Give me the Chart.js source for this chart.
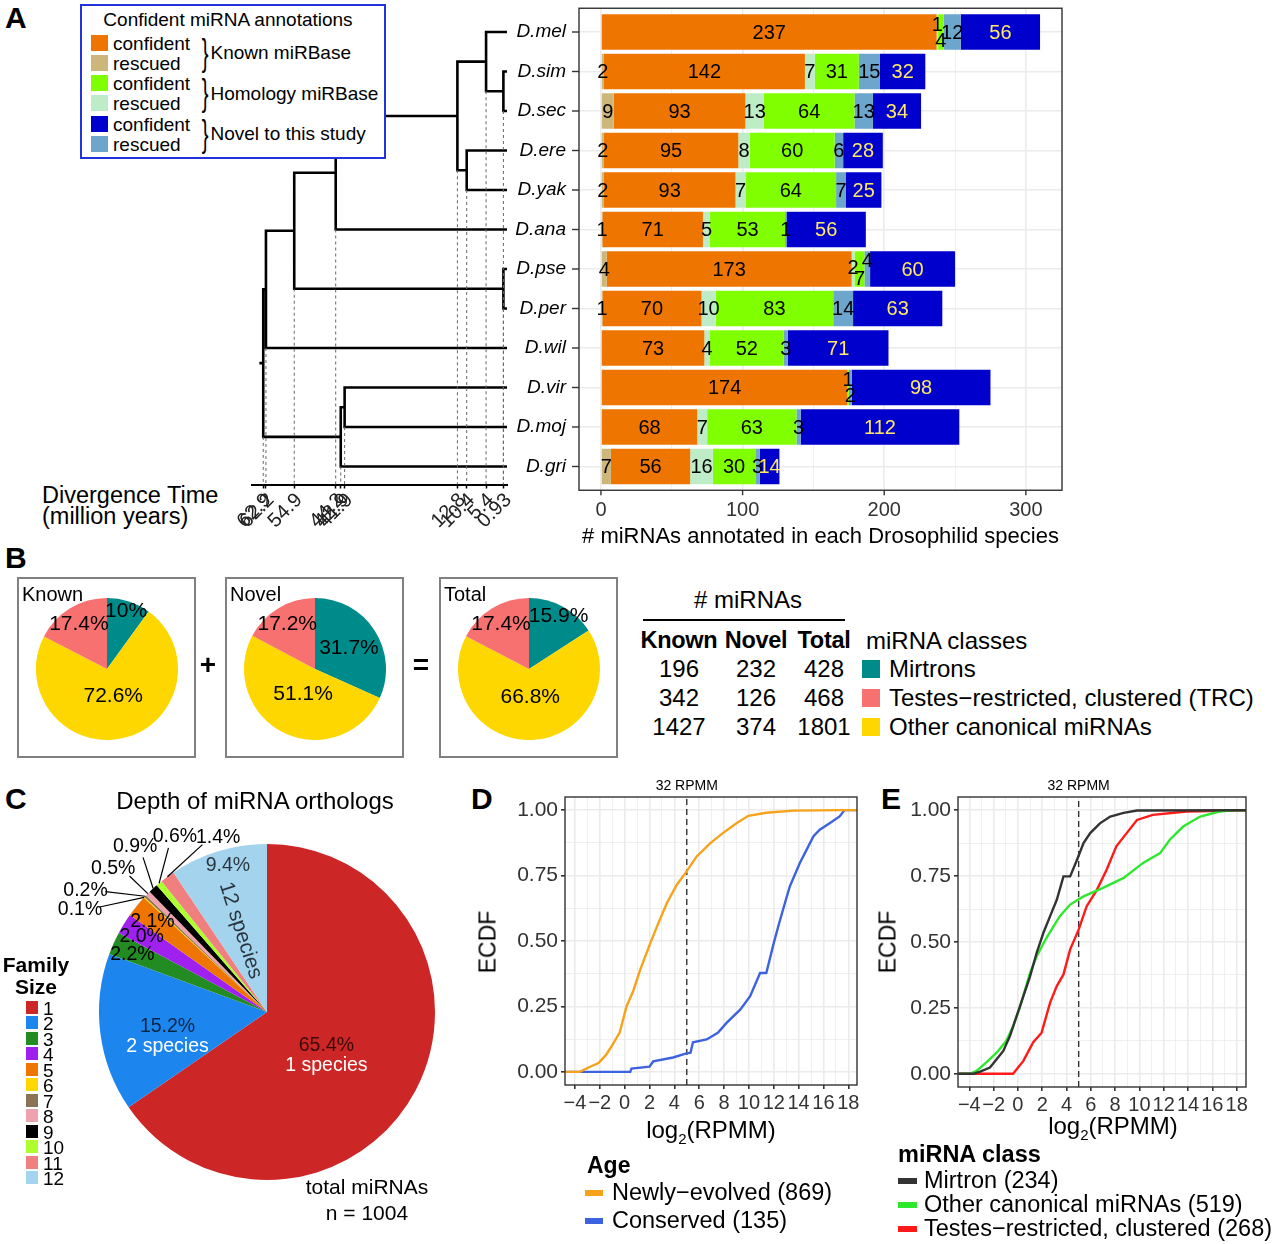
<!DOCTYPE html>
<html>
<head>
<meta charset="utf-8">
<title>Drosophilid miRNA annotations</title>
<script src="https://cdn.jsdelivr.net/npm/chart.js@4.4.1/dist/chart.umd.min.js"></script>
<style>
  body { margin:0; width:1280px; height:1244px; position:relative; overflow:hidden; background:#fff;
         font-family:'Liberation Sans', Arial, sans-serif; color:#000; }
  canvas { position:absolute; }
  .t { position:absolute; white-space:nowrap; line-height:1; }
  .letter { position:absolute; font-weight:bold; font-size:30px; line-height:1; }
</style>
</head>
<body>
<div class="letter" style="left:5px;top:3px">A</div>
<div class="letter" style="left:5px;top:543px">B</div>
<div class="letter" style="left:5px;top:784px">C</div>
<div class="letter" style="left:471px;top:784px">D</div>
<div class="letter" style="left:881px;top:784px">E</div>

<script>
// ---------- data ----------
// panel A
const species = ['D.mel','D.sim','D.sec','D.ere','D.yak','D.ana','D.pse','D.per','D.wil','D.vir','D.moj','D.gri'];
const knownRescued      = [0, 2, 9, 2, 2, 1, 4, 1, 0, 0, 0, 7];
const knownConfident    = [237, 142, 93, 95, 93, 71, 173, 70, 73, 174, 68, 56];
const homologyRescued   = [1, 7, 13, 8, 7, 5, 2, 10, 4, 0, 7, 16];
const homologyConfident = [4, 31, 64, 60, 64, 53, 7, 83, 52, 1, 63, 30];
const novelRescued      = [12, 15, 13, 6, 7, 1, 4, 14, 3, 2, 3, 3];
const novelConfident    = [56, 32, 34, 28, 25, 56, 60, 63, 71, 98, 112, 14];
const barTicks = [0, 50, 100, 150, 200, 250, 300];

// tree: [node, age (million years), children]
const treeNodes = [
  ['root', 62.9, ['sophophora+wil', 'drosophila']],
  ['sophophora+wil', 62.2, ['sophophora', 'D.wil']],
  ['sophophora', 54.9, ['melanogaster grp', 'obscura']],
  ['melanogaster grp', 44.2, ['melanogaster sgrp', 'D.ana']],
  ['melanogaster sgrp', 12.8, ['mel complex', 'ere-yak']],
  ['mel complex', 5.4, ['D.mel', 'sim-sec']],
  ['sim-sec', 0.93, ['D.sim', 'D.sec']],
  ['ere-yak', 10.4, ['D.ere', 'D.yak']],
  ['obscura', 0.93, ['D.pse', 'D.per']],
  ['drosophila', 42.9, ['vir-moj', 'D.gri']],
  ['vir-moj', 41.9, ['D.vir', 'D.moj']]
];
const rootEdge = 1.0;

// panel B
const classNames = ['Mirtrons', 'Testes\u2212restricted, clustered (TRC)', 'Other canonical miRNAs'];
const knownCounts = [196, 342, 1427];
const novelCounts = [232, 126, 374];
const totalCounts = [428, 468, 1801];

// panel C
const familySizes = ['1','2','3','4','5','6','7','8','9','10','11','12'];
const familyPct = [65.4, 15.2, 2.2, 2.0, 2.1, 0.1, 0.2, 0.5, 0.9, 0.6, 1.4, 9.4];
const totalMiRNAs = 1004;

// panels D, E: ECDF curves, [log2(RPMM), ECDF]
const newlyEvolved = [[-4.8,0],[-3.6,0],[-3.0,0.015],[-2.1,0.034],[-1.5,0.065],[-1.05,0.098],[-0.4,0.15],
  [0.15,0.25],[0.7,0.31],[1.25,0.39],[2.05,0.49],[2.6,0.555],[3.4,0.645],[4.2,0.715],[4.9,0.76],[5.8,0.823],
  [6.9,0.874],[7.9,0.912],[9.0,0.95],[9.95,0.978],[11.4,0.99],[13.6,0.998],[17.6,1],[18.7,1]];
const conserved = [[-4.8,0],[0.45,0],[0.55,0.013],[2.0,0.02],[2.3,0.04],[3.9,0.055],[4.9,0.07],[5.3,0.073],
  [5.5,0.113],[6.6,0.124],[7.5,0.149],[8.2,0.187],[9.3,0.238],[10.1,0.289],[10.9,0.378],[11.4,0.378],[12.0,0.492],
  [12.4,0.562],[12.9,0.645],[13.3,0.709],[14.1,0.798],[14.65,0.849],[15.2,0.9],[15.7,0.925],[16.5,0.95],
  [17.3,0.976],[17.7,1],[18.7,1]];
const mirtron = [[-4.9,0],[-3.7,0],[-3.1,0.008],[-2.3,0.024],[-1.75,0.055],[-1.2,0.087],[-0.65,0.144],[-0.1,0.22],
  [0.45,0.295],[1.0,0.37],[1.55,0.46],[2.1,0.535],[2.65,0.598],[3.2,0.66],[3.75,0.749],[4.3,0.749],[4.85,0.81],
  [5.4,0.875],[5.95,0.913],[6.75,0.95],[7.6,0.976],[8.7,0.99],[9.8,0.999],[18.8,1]];
const otherCanonical = [[-4.9,0],[-3.95,0],[-3.4,0.011],[-2.6,0.043],[-1.75,0.08],[-0.95,0.125],[-0.4,0.18],
  [0.15,0.25],[1.0,0.383],[1.55,0.446],[2.35,0.516],[3.45,0.598],[4.3,0.642],[5.4,0.673],[7.0,0.705],[8.7,0.743],
  [10.3,0.8],[11.7,0.837],[12.5,0.888],[13.6,0.938],[15.0,0.976],[16.6,0.995],[17.7,1],[18.8,1]];
const testesRestricted = [[-4.9,0],[-0.4,0],[0.45,0.049],[1.25,0.119],[1.95,0.156],[2.65,0.27],[3.2,0.333],
  [3.75,0.377],[4.3,0.472],[5.0,0.547],[5.65,0.635],[6.5,0.698],[7.3,0.774],[8.1,0.863],[8.95,0.913],
  [9.8,0.963],[11.1,0.982],[13.9,0.995],[18.8,1]];
const ageLabels = ['Newly\u2212evolved (869)', 'Conserved (135)'];
const classLabels = ['Mirtron (234)', 'Other canonical miRNAs (519)', 'Testes\u2212restricted, clustered (268)'];
const thresholdRPMM = 32;
const ecdfTicks = [-4,-3,-2,-1,0,1,2,3,4,5,6,7,8,9,10,11,12,13,14,15,16,17,18];
const ecdfYTicks = [0, 0.125, 0.25, 0.375, 0.5, 0.625, 0.75, 0.875, 1];

// ---------- styles ----------
const annotColors = ['#cdb67a', '#ee7600', '#bdecc6', '#7fff00', '#6ca6cd', '#0000cd'];
const annotText   = ['#000', '#000', '#000', '#000', '#000', '#ffe866'];
const classColors = ['#008b8b', '#f87171', '#ffd700'];
const familyColors = ['#cd2626','#1c86ee','#228b22','#a020f0','#ee7600','#ffd700','#8b7355','#eea2ad',
  '#000000','#adff2f','#f08080','#a4d3ee'];
const ageColors = ['#f7a21b', '#3d62e0'];
const classLineColors = ['#333333', '#2ee82e', '#ff1a1a'];
const FONT = "'Liberation Sans', Arial, sans-serif";

Chart.defaults.font.family = FONT;
Chart.defaults.color = '#333';
Chart.defaults.animation = false;
Chart.defaults.responsive = false;
Chart.defaults.plugins.legend.display = false;
Chart.defaults.plugins.tooltip.enabled = false;

// ---------- helpers ----------
function makeCanvas(x, y, w, h) {
  const c = document.createElement('canvas');
  c.width = w; c.height = h;
  c.style.left = x + 'px'; c.style.top = y + 'px';
  c.style.width = w + 'px'; c.style.height = h + 'px';
  document.body.appendChild(c);
  return c;
}
function text(html, x, y, css, anchor, parent) {
  const d = document.createElement('div');
  d.className = 't';
  d.innerHTML = html;
  if (css) d.style.cssText += css;
  d.style.left = x + 'px'; d.style.top = y + 'px';
  const tx = {l: '0', c: '-50%', r: '-100%'}[anchor || 'l'];
  d.style.transform = 'translate(' + tx + ',-50%)';
  (parent || document.body).appendChild(d);
  return d;
}
function div(css, parent) {
  const d = document.createElement('div');
  d.style.cssText = 'position:absolute;' + css;
  (parent || document.body).appendChild(d);
  return d;
}

const framePlugin = {
  id: 'frame',
  afterDatasetsDraw(chart, args, opts) {
    const a = chart.chartArea, ctx = chart.ctx, e = opts.extendY || 0;
    ctx.save();
    ctx.strokeStyle = '#333'; ctx.lineWidth = 1.4;
    ctx.strokeRect(a.left, a.top - e, a.right - a.left, a.bottom - a.top + 2 * e);
    ctx.restore();
  }
};

// ---------- panel A: tree ----------
const nodeMap = {};
treeNodes.forEach(n => nodeMap[n[0]] = n);
const ageOf = id => nodeMap[id] ? nodeMap[id][1] : 0;
const rowOf = id => nodeMap[id] ? (rowOf(nodeMap[id][2][0]) + rowOf(nodeMap[id][2][1])) / 2 : species.indexOf(id);
const axisRow = 11.455;
const solid = [], dashed = [];
treeNodes.forEach(([id, age, kids]) => {
  const y1 = rowOf(kids[0]), y2 = rowOf(kids[1]);
  solid.push({x: ageOf(kids[0]), y: y1}, {x: age, y: y1}, {x: age, y: y2}, {x: ageOf(kids[1]), y: y2}, {x: null, y: null});
  dashed.push({x: age, y: Math.max(y1, y2)}, {x: age, y: axisRow}, {x: null, y: null});
});
solid.push({x: treeNodes[0][1] + rootEdge, y: rowOf('root')}, {x: treeNodes[0][1], y: rowOf('root')});
const divTimes = [...new Set(treeNodes.map(n => n[1]))].sort((a, b) => b - a);

new Chart(makeCanvas(230, 0, 290, 550), {
  type: 'scatter',
  data: { datasets: [
    { data: dashed, showLine: true, pointRadius: 0, borderColor: '#666', borderWidth: 1, borderDash: [3, 3], clip: false },
    { data: solid, showLine: true, pointRadius: 0, borderColor: '#000', borderWidth: 2.6, borderJoinStyle: 'miter', clip: false }
  ]},
  options: {
    layout: { padding: { left: 22, right: 13, top: 8.3 } },
    scales: {
      x: { type: 'linear', reverse: true, min: 0, max: 65.8,
           afterBuildTicks: s => { s.ticks = divTimes.map(v => ({ value: v })); },
           ticks: { autoSkip: false, minRotation: 45, maxRotation: 45, font: { size: 20 }, color: '#222', padding: 0,
                    labelOffset: 5, callback: v => String(v) },
           grid: { drawOnChartArea: false, tickLength: 4, tickColor: '#000', tickWidth: 1.5 },
           border: { color: '#000', width: 2 },
           afterFit: s => { s.height = 65.5; s.paddingLeft = 0; s.paddingRight = 0; } },
      y: { type: 'linear', reverse: true, min: -0.6, max: axisRow, display: false }
    }
  }
});
text('Divergence Time', 42, 496, 'font-size:23.5px');
text('(million years)', 42, 517, 'font-size:23.5px');

// legend box of panel A
const lg = div('left:80px;top:4px;width:302px;height:151px;border:2px solid #2233dd;background:#fff;z-index:5');
text('Confident miRNA annotations', 146, 13, 'font-size:19px', 'c', lg);
const groupNames = ['Known miRBase', 'Homology miRBase', 'Novel to this study'];
[1, 0, 3, 2, 5, 4].forEach((k, r) => {
  div('left:9px;top:' + (28.5 + 20.3 * r) + 'px;width:17px;height:16px;background:' + annotColors[k], lg);
  text(r % 2 ? 'rescued' : 'confident', 31, 36.5 + 20.3 * r, 'font-size:19px', 'l', lg);
});
groupNames.forEach((g, i) => {
  const b = text('}', 117, 46.5 + 40.6 * i, 'font-size:37px;', 'l', lg);
  b.style.transform = 'translate(0,-52%) scaleX(0.55)';
  text(g, 128.5, 46 + 40.6 * i, 'font-size:19px', 'l', lg);
});

// ---------- panel A: bars ----------
const barPlugin = {
  id: 'barDecor',
  beforeDatasetsDraw(chart) {
    const a = chart.chartArea, ctx = chart.ctx, xs = chart.scales.x, ys = chart.scales.y;
    ctx.save();
    ctx.strokeStyle = '#ebebeb';
    barTicks.forEach(v => {
      const x = xs.getPixelForValue(v);
      ctx.lineWidth = v % 100 === 0 ? 1.6 : 0.8;
      ctx.beginPath(); ctx.moveTo(x, a.top - 4); ctx.lineTo(x, a.top);
      ctx.moveTo(x, a.bottom); ctx.lineTo(x, a.bottom + 4); ctx.stroke();
    });
    ctx.strokeStyle = '#333'; ctx.lineWidth = 1.4;
    barTicks.filter(v => v % 100 === 0).forEach(v => {
      const x = xs.getPixelForValue(v);
      ctx.beginPath(); ctx.moveTo(x, a.bottom + 4); ctx.lineTo(x, a.bottom + 9); ctx.stroke();
    });
    species.forEach((s, i) => {
      const y = ys.getPixelForValue(i);
      ctx.beginPath(); ctx.moveTo(a.left - 7, y); ctx.lineTo(a.left, y); ctx.stroke();
    });
    ctx.restore();
  },
  afterDatasetsDraw(chart) {
    const ctx = chart.ctx;
    ctx.save();
    ctx.font = '20px ' + FONT; ctx.textAlign = 'center'; ctx.textBaseline = 'middle';
    species.forEach((s, i) => {
      const items = [];
      chart.data.datasets.forEach((ds, d) => {
        const v = ds.data[i];
        if (!v) return;
        const el = chart.getDatasetMeta(d).data[i];
        items.push({ v, x: (el.x + el.base) / 2, y: el.y, color: annotText[d] });
      });
      const groups = [];
      items.forEach((it, k) => {
        if (k > 0 && it.x - items[k - 1].x < 9) groups[groups.length - 1].push(it); else groups.push([it]);
      });
      groups.forEach(g => g.forEach((it, k) => {
        let dy = 0;
        if (g.length === 2) dy = k === 0 ? -8 : 8;
        else if (g.length > 2) dy = k === 0 ? -2 : (k % 2 ? 9 : -9);
        ctx.fillStyle = it.color;
        ctx.fillText(String(it.v), it.x, it.y + dy + 1);
      }));
    });
    ctx.restore();
  }
};
const annotSeries = [knownRescued, knownConfident, homologyRescued, homologyConfident, novelRescued, novelConfident];
new Chart(makeCanvas(500, 0, 580, 550), {
  type: 'bar',
  data: { labels: species, datasets: annotSeries.map((s, k) => ({
    data: s, backgroundColor: annotColors[k], borderWidth: 0, barPercentage: 0.9, categoryPercentage: 1 })) },
  options: {
    indexAxis: 'y',
    layout: { padding: { top: 12.25, right: 18 } },
    plugins: { frame: { extendY: 4 } },
    scales: {
      x: { stacked: true, min: -15.5, max: 325.5,
           afterBuildTicks: s => { s.ticks = barTicks.map(v => ({ value: v })); },
           ticks: { callback: v => v % 100 === 0 ? String(v) : '', font: { size: 20 }, color: '#333', padding: 12, maxRotation: 0 },
           grid: { color: '#ebebeb', lineWidth: c => c.tick && c.tick.value % 100 === 0 ? 1.6 : 0.8, drawTicks: false },
           border: { display: false },
           title: { display: true, text: '# miRNAs annotated in each Drosophilid species', font: { size: 22 }, color: '#000', padding: 0 },
           afterFit: s => { s.height = 63.75; s.paddingLeft = 0; s.paddingRight = 0; } },
      y: { stacked: true,
           ticks: { font: { size: 19, style: 'italic' }, color: '#000', padding: 13 },
           grid: { color: '#ebebeb', lineWidth: 1.6, offset: false, drawTicks: false },
           border: { display: false },
           afterFit: s => { s.width = 79; s.paddingTop = 0; s.paddingBottom = 0; } }
    }
  },
  plugins: [framePlugin, barPlugin]
});

// ---------- panel B ----------
const pieOrder = [0, 2, 1]; // clockwise from top: mirtrons, other canonical, TRC
const pctText = (v, sum) => +(v / sum * 100).toFixed(1) + '%';
const pieBLabels = {
  id: 'pieBLabels',
  afterDatasetsDraw(chart) {
    const ctx = chart.ctx, ds = chart.data.datasets[0];
    const sum = ds.data.reduce((a, b) => a + b, 0);
    ctx.save();
    ctx.font = '21px ' + FONT; ctx.textAlign = 'center'; ctx.textBaseline = 'middle'; ctx.fillStyle = '#000';
    chart.getDatasetMeta(0).data.forEach((el, i) => {
      const f = ds.data[i] / sum;
      const rf = f < 0.165 ? 0.87 : f < 0.2 ? 0.76 : f < 0.4 ? 0.57 : 0.38;
      const m = (el.startAngle + el.endAngle) / 2, r = el.outerRadius * rf;
      ctx.fillText(pctText(ds.data[i], sum), el.x + r * Math.cos(m), el.y + r * Math.sin(m) + 1);
    });
    ctx.restore();
  }
};
[[knownCounts, 'Known', 17], [novelCounts, 'Novel', 225], [totalCounts, 'Total', 439]].forEach(([counts, name, bx]) => {
  div('left:' + bx + 'px;top:577px;width:179px;height:181px;border:2px solid #808080;box-sizing:border-box');
  new Chart(makeCanvas(bx + 19, 598, 142, 142), {
    type: 'pie',
    data: { labels: pieOrder.map(k => classNames[k]), datasets: [{
      data: pieOrder.map(k => counts[k]), backgroundColor: pieOrder.map(k => classColors[k]), borderWidth: 0 }] },
    options: {},
    plugins: [pieBLabels]
  });
  text(name, bx + 5, 594, 'font-size:20px');
});
text('+', 208, 665, 'font-size:28px;font-weight:bold', 'c');
text('=', 421, 665, 'font-size:28px;font-weight:bold', 'c');

text('# miRNAs', 748, 600, 'font-size:24px', 'c');
div('left:643px;top:619px;width:202px;height:2px;background:#000');
const colX = [679, 756, 824];
['Known', 'Novel', 'Total'].forEach((h, j) => text(h, colX[j], 641, 'font-size:23.5px;font-weight:bold;letter-spacing:-0.3px', 'c'));
text('miRNA classes', 866, 641, 'font-size:24px');
classNames.forEach((n, i) => {
  const y = 669 + 29 * i;
  [knownCounts, novelCounts, totalCounts].forEach((c, j) => text(String(c[i]), colX[j], y, 'font-size:24px', 'c'));
  div('left:862px;top:' + (y - 9) + 'px;width:18px;height:18px;background:' + classColors[i]);
  text(n, 889, y, 'font-size:24px');
});

// ---------- panel C ----------
// label spots for each slice: [angle clockwise from top (deg), radius factor]
const pieCLabelSpots = [[126.5,0.44],[256,0.61],[293,0.87],[301,0.87],[308.4,0.87],[298.8,1.27],
  [303.8,1.30],[312.9,1.25],[321.5,1.26],[332.3,1.18],[344.4,1.08],[345,0.9]];
const pieCLabels = {
  id: 'pieCLabels',
  afterDatasetsDraw(chart) {
    const ctx = chart.ctx, ds = chart.data.datasets[0];
    ctx.save();
    ctx.textAlign = 'center'; ctx.textBaseline = 'middle';
    const pos = (el, deg, rf) => { const a = (deg - 90) * Math.PI / 180; return [el.x + el.outerRadius * rf * Math.cos(a), el.y + el.outerRadius * rf * Math.sin(a)]; };
    chart.getDatasetMeta(0).data.forEach((el, i) => {
      const [deg, rf] = pieCLabelSpots[i];
      const [x, y] = pos(el, deg, rf);
      const lbl = ds.data[i].toFixed(1) + '%';
      ctx.font = '19.5px ' + FONT;
      if (rf > 1) {
        const m = (el.startAngle + el.endAngle) / 2;
        const ex = el.x + el.outerRadius * Math.cos(m), ey = el.y + el.outerRadius * Math.sin(m);
        const dx = ex - x, dy = ey - y, d = Math.hypot(dx, dy);
        ctx.strokeStyle = '#000'; ctx.lineWidth = 1.2;
        ctx.beginPath(); ctx.moveTo(x + dx / d * 20, y + dy / d * 12); ctx.lineTo(ex, ey); ctx.stroke();
        ctx.fillStyle = '#000';
        ctx.fillText(lbl, x, y);
      } else if (i < 2) {
        ctx.fillStyle = 'rgba(0,0,0,0.72)';
        ctx.fillText(lbl, x, y - 10);
        ctx.fillStyle = '#fff';
        ctx.fillText(familySizes[i] + ' species', x, y + 10);
      } else {
        ctx.fillStyle = i === 11 ? 'rgba(0,0,0,0.75)' : '#000';
        ctx.fillText(lbl, x, y);
        if (i === 11) {
          const [sx, sy] = pos(el, 342, 0.51);
          ctx.save(); ctx.translate(sx, sy); ctx.rotate((342 + 90 - 360) * Math.PI / 180);
          ctx.font = '21px ' + FONT;
          ctx.fillText(familySizes[i] + ' species', 0, 0);
          ctx.restore();
        }
      }
    });
    ctx.restore();
  }
};
new Chart(makeCanvas(50, 795, 434, 434), {
  type: 'pie',
  data: { labels: familySizes, datasets: [{ data: familyPct, backgroundColor: familyColors, borderWidth: 0 }] },
  options: { layout: { padding: 49 } },
  plugins: [pieCLabels]
});
text('Depth of miRNA orthologs', 255, 801, 'font-size:24px', 'c');
text('Family', 36, 964, 'font-size:21px;font-weight:bold', 'c');
text('Size', 36, 986, 'font-size:21px;font-weight:bold', 'c');
familySizes.forEach((s, i) => {
  const y = 1008 + 15.45 * i;
  div('left:26px;top:' + (y - 7) + 'px;width:12px;height:13px;background:' + familyColors[i]);
  text(s, 43, y, 'font-size:19px');
});
text('total miRNAs', 367, 1186, 'font-size:21px', 'c');
text('n = ' + totalMiRNAs, 367, 1212, 'font-size:21px', 'c');

// ---------- panels D, E ----------
const minus = v => v < 0 ? '\u2212' + Math.abs(v) : String(v);
function ecdfChart(box, series, colors, xRange) {
  const cut = Math.log2(thresholdRPMM);
  const datasets = series.map((s, k) => ({
    data: s.map(p => ({ x: p[0], y: p[1] })), showLine: true, pointRadius: 0,
    borderColor: colors[k], borderWidth: 2.4, tension: 0 }));
  datasets.push({ data: [{ x: cut, y: -0.05 }, { x: cut, y: 1.05 }], showLine: true, pointRadius: 0,
    borderColor: '#333', borderWidth: 1.4, borderDash: [6, 4] });
  const cutLabel = {
    id: 'cutLabel',
    afterDraw(chart) {
      const ctx = chart.ctx;
      ctx.save();
      ctx.font = '14px ' + FONT; ctx.fillStyle = '#000'; ctx.textAlign = 'center'; ctx.textBaseline = 'middle';
      ctx.fillText(thresholdRPMM + ' RPMM', chart.scales.x.getPixelForValue(cut), chart.chartArea.top - 11);
      ctx.restore();
    }
  };
  new Chart(makeCanvas(box.x, 775, 375, 345), {
    type: 'scatter',
    data: { datasets },
    options: {
      layout: { padding: { top: 22, right: box.pr } },
      scales: {
        x: { type: 'linear', min: xRange[0], max: xRange[1],
             afterBuildTicks: s => { s.ticks = ecdfTicks.map(v => ({ value: v })); },
             ticks: { autoSkip: false, maxRotation: 0, font: { size: 20 }, color: '#333', padding: 2,
                      callback: v => v % 2 === 0 ? minus(v) : '' },
             grid: { color: '#ebebeb', lineWidth: c => c.tick && c.tick.value % 2 === 0 ? 1.6 : 0.8,
                     tickLength: 4, tickColor: c => c.tick && c.tick.value % 2 === 0 ? '#333' : 'rgba(0,0,0,0)' },
             border: { display: false },
             afterFit: s => { s.height = box.xh; } },
        y: { type: 'linear', min: -0.05, max: 1.05,
             afterBuildTicks: s => { s.ticks = ecdfYTicks.map(v => ({ value: v })); },
             ticks: { autoSkip: false, font: { size: 21 }, color: '#333', padding: 3,
                      callback: v => (v * 4) % 1 === 0 ? v.toFixed(2) : '' },
             grid: { color: '#ebebeb', lineWidth: c => c.tick && (c.tick.value * 4) % 1 === 0 ? 1.6 : 0.8,
                     tickLength: 4, tickColor: c => c.tick && (c.tick.value * 4) % 1 === 0 ? '#333' : 'rgba(0,0,0,0)' },
             border: { display: false },
             afterFit: s => { s.width = box.yw; } }
      }
    },
    plugins: [framePlugin, cutLabel]
  });
}
ecdfChart({ x: 495, pr: 13, xh: 35, yw: 70 }, [newlyEvolved, conserved], ageColors, [-4.8, 18.7]);
ecdfChart({ x: 890, pr: 19, xh: 33, yw: 68 }, [mirtron, otherCanonical, testesRestricted], classLineColors, [-4.93, 18.77]);

[[488, 711], [888, 1113]].forEach(([ex, tx], i) => {
  const e = text('ECDF', ex, 942, 'font-size:23px', 'c');
  e.style.transform = 'translate(-50%,-50%) rotate(-90deg)';
  text('log<sub style="font-size:15px;vertical-align:-6px">2</sub>(RPMM)', tx, i ? 1128 : 1132, 'font-size:24px', 'c');
});
text('Age', 587, 1165, 'font-size:23px;font-weight:bold');
ageLabels.forEach((l, i) => {
  const y = 1193 + 28 * i;
  div('left:585px;top:' + (y - 3) + 'px;width:18px;height:6px;background:' + ageColors[i]);
  text(l, 612, y, 'font-size:23.5px');
});
text('miRNA class', 898, 1155, 'font-size:23.5px;font-weight:bold');
classLabels.forEach((l, i) => {
  const y = 1181 + 24 * i;
  div('left:898px;top:' + (y - 3) + 'px;width:19px;height:6px;background:' + classLineColors[i]);
  text(l, 924, y, 'font-size:23.5px');
});
</script>
</body>
</html>
